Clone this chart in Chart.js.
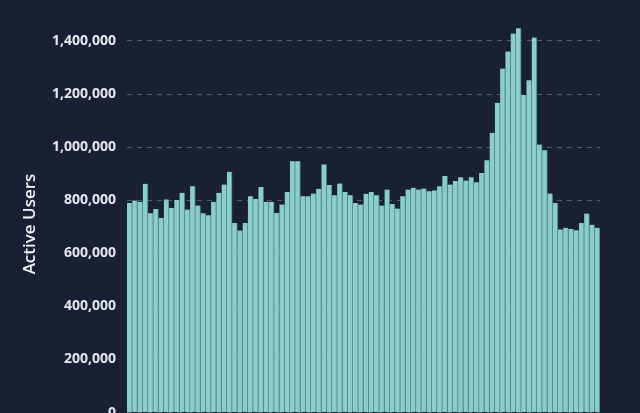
<!DOCTYPE html>
<html>
<head>
<meta charset="utf-8">
<script src="https://cdn.jsdelivr.net/npm/chart.js@4/dist/chart.umd.min.js"></script>
<style>
  html, body { margin: 0; padding: 0; background: #192034; overflow: hidden; width: 640px; height: 413px; }
  #wrap { position: absolute; left: 0; top: -5.4px; width: 640px; height: 437px; }
</style>
</head>
<body>
<div id="wrap"><canvas id="c"></canvas></div>
<script>
// Data
const activeUsers = [
  790000, 799000, 794000, 862000, 751000, 767000, 733000, 803000, 771000, 801000,
  828000, 765000, 853000, 780000, 751000, 743000, 794000, 828000, 859000, 907000,
  714000, 686000, 714000, 815000, 805000, 850000, 794000, 794000, 752000, 784000,
  831000, 947000, 947000, 815000, 815000, 825000, 843000, 935000, 857000, 819000,
  863000, 831000, 819000, 790000, 784000, 824000, 831000, 819000, 780000, 840000,
  786000, 769000, 815000, 840000, 847000, 840000, 844000, 834000, 837000, 853000,
  891000, 859000, 872000, 887000, 874000, 887000, 868000, 903000, 951000, 1054000,
  1167000, 1296000, 1360000, 1428000, 1448000, 1196000, 1252000, 1413000, 1010000, 988000,
  825000, 790000, 690000, 696000, 692000, 687000, 714000, 750000, 708000, 696000
];
const periods = activeUsers.map((_, i) => 'Week ' + (i + 1));
const yTickValues = [0, 200000, 400000, 600000, 800000, 1000000, 1200000, 1400000];
const yTitle = 'Active Users';

// Draws the y-axis title (real text) a little below the axis middle, as in the reference
const yTitlePlugin = {
  id: 'yTitle',
  afterDraw(chart) {
    const ctx = chart.ctx;
    ctx.save();
    ctx.translate(30, 229);
    ctx.rotate(-Math.PI / 2);
    ctx.fillStyle = '#f2f4f8';
    ctx.font = '600 17px "Open Sans"';
    ctx.textAlign = 'center';
    ctx.textBaseline = 'middle';
    ctx.fillText(yTitle, 0, 0);
    ctx.restore();
  }
};

new Chart(document.getElementById('c'), {
  type: 'bar',
  data: {
    labels: periods,
    datasets: [{
      label: yTitle,
      data: activeUsers,
      backgroundColor: '#8ccdc9',
      borderColor: '#3d7f80',
      borderWidth: { top: 0, right: 1, bottom: 0, left: 0 },
      borderSkipped: false,
      barPercentage: 1.0,
      categoryPercentage: 1.0
    }]
  },
  plugins: [yTitlePlugin],
  options: {
    responsive: true,
    maintainAspectRatio: false,
    animation: false,
    layout: { padding: { top: 0, right: 40, bottom: 0, left: 0 } },
    plugins: { legend: { display: false }, tooltip: { enabled: false } },
    scales: {
      x: { display: false, grid: { display: false } },
      y: {
        min: 0,
        max: 1500000,
        afterBuildTicks: s => { s.ticks = yTickValues.map(v => ({ value: v })); },
        afterFit: s => { s.width = 127; },
        grid: { color: 'rgba(150,160,180,0.45)', lineWidth: 1, drawTicks: false },
        border: { display: false, dash: [5, 5] },
        ticks: {
          padding: 11,
          color: '#e4e7ee',
          font: { family: 'Open Sans', size: 14, weight: '700' },
          callback: v => v.toLocaleString('en-US')
        },
        title: { display: false }
      }
    }
  }
});
</script>
</body>
</html>
